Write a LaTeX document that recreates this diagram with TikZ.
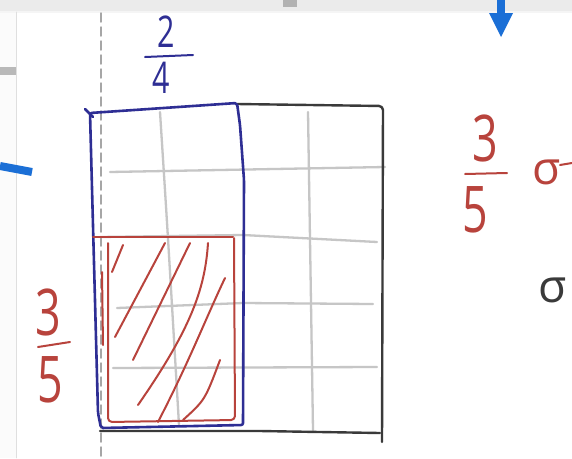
\documentclass[tikz,border=0pt]{standalone}
\usepackage{fontspec}
\setmainfont{Open Sans}
\definecolor{navy}{HTML}{2E2E94}
\definecolor{redink}{HTML}{B8433C}
\definecolor{gridgray}{HTML}{C6C6C6}
\definecolor{inkblack}{HTML}{3A3A3A}
\definecolor{arrowblue}{HTML}{1B6FD6}
\newcommand{\tallglyph}[1]{\scalebox{0.8}[1.15]{#1}}
\begin{document}
\begin{tikzpicture}[x=1pt,y=-1pt, line cap=round, line join=round,
 gridline/.style={gridgray, line width=2.3pt},
 blueink/.style={navy, line width=2.6pt},
 redline/.style={redink, line width=2pt},
 blackline/.style={inkblack, line width=2.4pt},
 bigdigit/.style={inner sep=0pt, font=\fontsize{56}{56}\selectfont},
 smalldigit/.style={inner sep=0pt, font=\fontsize{38}{38}\selectfont}]
\useasboundingbox (0,0) rectangle (572,458);
% screen background
\fill[white] (0,0) rectangle (572,458);
\fill[gray!3] (0,12) rectangle (16,458);
\fill[gray!16] (0,0) rectangle (572,11);
\fill[gray!8] (0,11) rectangle (572,13);
\draw[gray!25, line width=0.8pt] (16.5,12) -- (16.5,458);
\fill[gray!55] (0,67) rectangle (16,75);
\fill[gray!60] (283,0) rectangle (297,7);
% blue pointer marks
\fill[arrowblue] (497,0) rectangle (505,13);
\fill[arrowblue] (489,13) -- (513,13) -- (501,37) -- cycle;
\draw[arrowblue, line width=8pt, line cap=butt] (0,166) -- (32,172);
% dashed guide
\draw[gray!70, line width=1.5pt, dash pattern=on 9pt off 5pt] (101,13) -- (101,458);
% grid lines
\draw[gridline] (160,112) .. controls (168,237) .. (179,425);
\draw[gridline] (308,112) -- (313,430);
\draw[gridline] (110,172) -- (385,167);
\draw[gridline] (100,237) -- (243,235) -- (377,242);
\draw[gridline] (117,308) -- (243,303) -- (373,304);
\draw[gridline] (113,368) -- (377,367);
% outer square
\draw[blackline, rounded corners=4pt] (237,104) -- (383,106) -- (382,442);
\draw[blackline] (100,431) -- (260,431) -- (380,433);
% blue two quarters
\draw[blueink, rounded corners=2pt] (90,113) -- (237,103) -- (240,125) -- (244,180) -- (243,425) -- (101,428) -- (98,413) -- cycle;
\draw[blueink] (85,109) -- (93,117);
% red three fifths of it
\draw[redline] (93,237) -- (233,237);
\draw[redline, rounded corners=4pt] (108,243) -- (108,422) -- (235,420) -- (234,238);
\draw[redline] (102,272) -- (103,345);
% hatching
\draw[redline] (112,272) -- (123,245);
\draw[redline] (115,337) -- (165,243);
\draw[redline] (133,360) -- (190,243);
\draw[redline] (138,405) .. controls (190,330) and (205,290) .. (208,243);
\draw[redline] (158,422) .. controls (190,360) and (205,320) .. (225,278);
\draw[redline] (183,420) .. controls (205,400) .. (220,360);
% fraction 2/4
\node[smalldigit, navy] (twoN) at (166,32) {\tallglyph{2}};
\node[smalldigit, navy] (fourD) at (161,78) {\tallglyph{4}};
\draw[navy, line width=2pt] (145,57) -- (193,55);
% fraction 3/5 left
\node[bigdigit, redink] (threeL) at (48,312) {\tallglyph{3}};
\node[bigdigit, redink] (fiveL) at (50,380) {\tallglyph{5}};
\draw[redink, line width=2pt] (38,347) -- (70,342);
% fraction 3/5 right
\node[bigdigit, redink] (threeR) at (485,138) {\tallglyph{3}};
\node[bigdigit, redink] (fiveR) at (475,210) {\tallglyph{5}};
\draw[redink, line width=2pt] (465,174) -- (507,173);
% cut-off words
\node[inner sep=0pt, redink, font=\fontsize{46}{46}\selectfont, anchor=west] (sigmaA) at (532,172) {σ};
\draw[redink, line width=2pt] (560,165) -- (572,163);
\node[inner sep=0pt, inkblack, font=\fontsize{46}{46}\selectfont, anchor=west] (sigmaB) at (538,290) {σ};
\end{tikzpicture}
\end{document}
